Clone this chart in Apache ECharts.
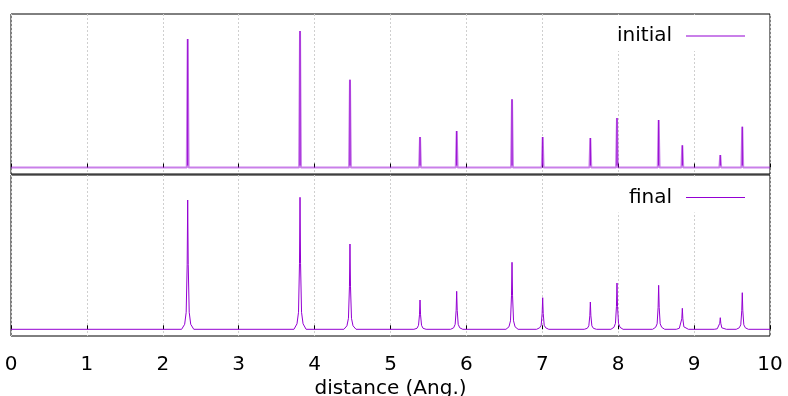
<!DOCTYPE html>
<html><head><meta charset="utf-8">
<script src="https://cdn.jsdelivr.net/npm/echarts@6/dist/echarts.min.js"></script>
<style>html,body{margin:0;padding:0;background:#fff}#c{width:788px;height:396px}</style>
</head><body><div id="c"></div><script>
// x ticks
const xTickValues = [0, 1, 2, 3, 4, 5, 6, 7, 8, 9, 10];
// peak positions (Ang.)
const peakPositions = [2.328, 3.808, 4.466, 5.389, 5.872, 6.601, 7.005, 7.633, 7.984, 8.533, 8.845, 9.345, 9.635];
// initial peak heights (arb. units)
const initialHeights = [25.7, 27.3, 17.56, 6.1, 7.3, 13.64, 6.1, 5.9, 9.9, 9.5, 4.44, 2.5, 8.16];
// final peak heights and broadened profile values (arb. units)
const finalHeights  = [25.86, 26.4, 17.06, 5.86, 7.6, 13.4, 6.32, 5.46, 9.26, 8.8, 4.2, 2.32, 7.32];
const finalHalf     = [12.9, 13.2, 8.5, 2.9, 3.8, 6.7, 3.2, 2.7, 4.6, 4.4, 2.1, 1.2, 3.7];
const finalShoulder = [3.4, 3.4, 2.2, 0.8, 1.0, 1.7, 0.8, 0.7, 1.2, 1.1, 0.5, 0.3, 0.9];
const finalFoot     = [1.0, 1.1, 0.7, 0.2, 0.3, 0.5, 0.3, 0.2, 0.4, 0.4, 0.2, 0.1, 0.3];

const xMin = xTickValues[0], xMax = xTickValues[xTickValues.length - 1];

const initialData = [[xMin, 0]];
const initialStems = [];
peakPositions.forEach((p, i) => {
  initialData.push([p - 0.012, 0], [p, initialHeights[i]], [p + 0.012, 0]);
  initialStems.push([p, 0.4], [p, initialHeights[i]], [p, '-']);
});
initialData.push([xMax, 0]);

const finalData = [[xMin, 0]];
peakPositions.forEach((p, i) => {
  finalData.push(
    [p - 0.08, 0], [p - 0.04, finalFoot[i]], [p - 0.02, finalShoulder[i]], [p - 0.007, finalHalf[i]],
    [p, finalHeights[i]],
    [p + 0.007, finalHalf[i]], [p + 0.02, finalShoulder[i]], [p + 0.04, finalFoot[i]], [p + 0.08, 0]
  );
});
finalData.push([xMax, 0]);

const FONT = 'DejaVu Sans';
const purple = '#9400d3';
const lightPurple = 'rgba(148,0,211,0.5)';

const chart = echarts.init(document.getElementById('c'), null, {renderer: 'canvas'});

function xAxisCfg(gridIndex, showLabels) {
  return {
    type: 'value', gridIndex, min: xMin, max: xMax, interval: 1,
    axisLine: {show: false},
    axisTick: {show: true, inside: true, length: 4, lineStyle: {color: '#000'}},
    axisLabel: {show: showLabels, fontSize: 20, fontFamily: FONT, color: '#000', margin: 19},
    splitLine: {show: true, lineStyle: {color: '#cfcfcf', type: [2, 2], width: 1}},
    name: showLabels ? 'distance (Ang.)' : '',
    nameLocation: 'middle', nameGap: 43,
    nameTextStyle: {fontSize: 20, fontFamily: FONT, color: '#000'}
  };
}
function yAxisCfg(gridIndex, min, max) {
  return {
    type: 'value', gridIndex, min, max,
    axisLine: {show: false}, axisTick: {show: false},
    axisLabel: {show: false}, splitLine: {show: false}
  };
}
function legendCfg(name, top, iconH) {
  return {
    data: [name], right: 23, top: top, orient: 'horizontal', align: 'right',
    icon: 'rect', itemWidth: 59, itemHeight: iconH,
    backgroundColor: '#fff',
    padding: [11, 20, 5, 17],
    textStyle: {fontSize: 20, fontFamily: FONT, color: '#000', padding: [0, 9, 0, 0]}
  };
}

chart.setOption({
  animation: false,
  backgroundColor: '#fff',
  grid: [
    {left: 11, top: 14, width: 759, height: 160, show: true, borderColor: '#000', borderWidth: 1, backgroundColor: 'transparent', containLabel: false, outerBoundsMode: 'none'},
    {left: 11, top: 175, width: 759, height: 161, show: true, borderColor: '#000', borderWidth: 1, backgroundColor: 'transparent', containLabel: false, outerBoundsMode: 'none'}
  ],
  xAxis: [xAxisCfg(0, false), xAxisCfg(1, true)],
  yAxis: [yAxisCfg(0, -1.3, 30.7), yAxisCfg(1, -1.34, 30.86)],
  legend: [legendCfg('initial', 15, 2), legendCfg('final', 176.5, 1)],
  series: [
    {
      name: 'initial', type: 'line', xAxisIndex: 0, yAxisIndex: 0,
      data: initialData, symbol: 'none', clip: true,
      lineStyle: {color: lightPurple, width: 2},
      itemStyle: {color: lightPurple}
    },
    {
      name: 'initial-stems', type: 'line', xAxisIndex: 0, yAxisIndex: 0,
      data: initialStems, symbol: 'none', connectNulls: false, silent: true,
      lineStyle: {color: purple, width: 1},
      itemStyle: {color: purple}
    },
    {
      name: 'final', type: 'line', xAxisIndex: 1, yAxisIndex: 1,
      data: finalData, symbol: 'none', clip: true,
      lineStyle: {color: purple, width: 1},
      itemStyle: {color: purple}
    }
  ]
});
</script></body></html>
